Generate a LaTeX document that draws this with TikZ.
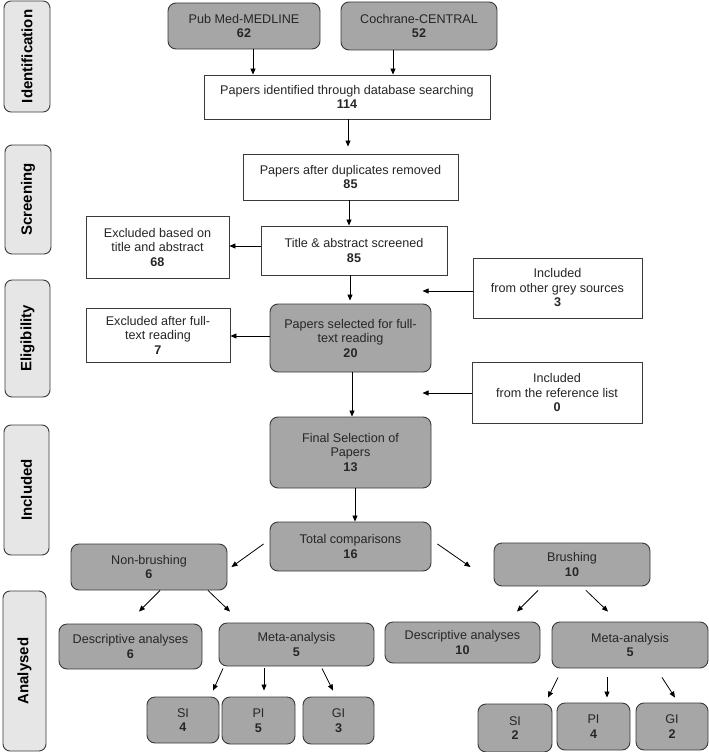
\documentclass[tikz,border=0pt]{standalone}
\usepackage{fontspec}
\setmainfont{Liberation Sans}
\usetikzlibrary{arrows.meta,calc}
\definecolor{boxgrey}{HTML}{A6A6A6}
\definecolor{sidegrey}{HTML}{E6E6E6}
\definecolor{edgec}{HTML}{3A3A3A}
\begin{document}
\begin{tikzpicture}[x=1pt,y=-1pt,
  base/.style={draw=edgec, line width=0.9pt, align=center, inner sep=2pt,
    font=\fontsize{12.6}{14.5}\selectfont, text=black!85},
  whitebox/.style={base, fill=white},
  greybox/.style={base, fill=boxgrey, rounded corners=8pt},
  sidebox/.style={draw=edgec, line width=0.9pt, fill=sidegrey, rounded corners=7pt,
    rotate=90, font=\fontsize{15}{18}\selectfont\bfseries},
  arr/.style={-{Triangle[length=6pt,width=5pt]}, line width=0.8pt},
]
\useasboundingbox (0,0) rectangle (709,752);

% side labels
\node[sidebox, minimum width=111pt, minimum height=46pt] (idl) at (27,56.5) {Identification};
\node[sidebox, minimum width=109pt, minimum height=46pt] (scr) at (28,199.5) {Screening};
\node[sidebox, minimum width=117pt, minimum height=45pt] (eli) at (27.5,338.5) {Eligibility};
\node[sidebox, minimum width=130pt, minimum height=45pt] (inc) at (26.5,490) {Included};
\node[sidebox, minimum width=160pt, minimum height=43pt] (ana) at (24.5,671) {Analysed};

% main flow
\node[greybox, minimum width=152pt, minimum height=46pt] (pub) at (244,26) {Pub Med-MEDLINE\\\textbf{62}};
\node[greybox, minimum width=156pt, minimum height=48pt] (coch) at (419,26) {Cochrane-CENTRAL\\\textbf{52}};
\node[whitebox, minimum width=286pt, minimum height=44pt] (ident) at (347,97) {Papers identified through database searching\\\textbf{114}};
\node[whitebox, minimum width=215pt, minimum height=46pt] (dup) at (350.5,177) {Papers after duplicates removed\\\textbf{85}};
\node[whitebox, minimum width=186pt, minimum height=49pt] (tas) at (354,250.5) {Title \& abstract screened\\\textbf{85}};
\node[whitebox, minimum width=143pt, minimum height=62pt] (excl1) at (157.5,247) {Excluded based on\\title and abstract\\\textbf{68}};
\node[greybox, minimum width=161pt, minimum height=68pt] (sel) at (350.5,338) {Papers selected for full-\\text reading\\\textbf{20}};
\node[whitebox, minimum width=144pt, minimum height=54pt] (excl2) at (158,335) {Excluded after full-\\text reading\\\textbf{7}};
\node[whitebox, minimum width=169pt, minimum height=60pt] (grey) at (557.5,288) {Included\\from other grey sources\\\textbf{3}};
\node[whitebox, minimum width=170pt, minimum height=61pt] (ref) at (557,392.5) {Included\\from the reference list\\\textbf{0}};
\node[greybox, minimum width=161pt, minimum height=71pt] (final) at (350.5,452.5) {Final Selection of\\Papers\\\textbf{13}};
\node[greybox, minimum width=161pt, minimum height=49pt] (total) at (350.5,546.5) {Total comparisons\\\textbf{16}};
\node[greybox, minimum width=156pt, minimum height=46pt] (nonb) at (149,567) {Non-brushing\\\textbf{6}};
\node[greybox, minimum width=156pt, minimum height=43pt] (brush) at (572,564.5) {Brushing\\\textbf{10}};
\node[greybox, minimum width=143pt, minimum height=45pt] (desc1) at (130.5,646.5) {Descriptive analyses\\\textbf{6}};
\node[greybox, minimum width=155pt, minimum height=43pt] (meta1) at (296.5,644.5) {Meta-analysis\\\textbf{5}};
\node[greybox, minimum width=72pt, minimum height=46pt] (si1) at (183,720) {SI\\\textbf{4}};
\node[greybox, minimum width=73pt, minimum height=47pt] (pi1) at (258.5,720.5) {PI\\\textbf{5}};
\node[greybox, minimum width=71pt, minimum height=47pt] (gi1) at (338.5,720.5) {GI\\\textbf{3}};
\node[greybox, minimum width=155pt, minimum height=41pt] (desc2) at (462.5,642.5) {Descriptive analyses\\\textbf{10}};
\node[greybox, minimum width=156pt, minimum height=46pt] (meta2) at (630,645) {Meta-analysis\\\textbf{5}};
\node[greybox, minimum width=74pt, minimum height=48pt] (si2) at (515,728) {SI\\\textbf{2}};
\node[greybox, minimum width=73pt, minimum height=47pt] (pi2) at (593.5,726.5) {PI\\\textbf{4}};
\node[greybox, minimum width=72pt, minimum height=47pt] (gi2) at (672,726.5) {GI\\\textbf{2}};

% arrows
\draw[arr] (pub.south -| 253,0) -- (ident.north -| 253,0);
\draw[arr] (coch.south -| 393,0) -- (ident.north -| 393,0);
\draw[arr, shorten >=7pt] (ident.south -| 348,0) -- (dup.north -| 348,0);
\draw[arr] (dup.south -| 349,0) -- (tas.north -| 349,0);
\draw[arr] (tas.west |- 0,246) -- (excl1.east |- 0,246);
\draw[arr, shorten >=3pt] (tas.south -| 350,0) -- (sel.north -| 350,0);
\draw[arr] (sel.west |- 0,336) -- (excl2.east |- 0,336);
\draw[arr] (grey.west |- 0,291) -- ++(-50,0);
\draw[arr] (sel.south -| 352,0) -- (final.north -| 352,0);
\draw[arr] (ref.west |- 0,393) -- ++(-49,0);
\draw[arr] (final.south -| 355,0) -- (total.north -| 355,0);

\draw[arr] ($(total.west)+(-6,-2.5)$) -- ($(nonb.east)+(4,0)$);
\draw[arr] ($(total.east)+(6,-2.5)$) -- ($(brush.west)+(-23,2.5)$);
\draw[arr] ($(nonb.south)+(11,0)$) -- ($(desc1.north)+(8.5,-12)$);
\draw[arr] ($(nonb.south)+(59,0)$) -- ($(meta1.north)+(-66.5,-11)$);
\draw[arr] ($(meta1.south)+(-73.5,2)$) -- ($(si1.north)+(30,-6)$);
\draw[arr] ($(meta1.south)+(-32.5,2)$) -- ($(pi1.north)+(5.5,-6)$);
\draw[arr] ($(meta1.south)+(25.5,2)$) -- ($(gi1.north)+(-5.5,-6)$);
\draw[arr] ($(brush.south)+(-34,4)$) -- ($(desc2.north)+(54.5,-10)$);
\draw[arr] ($(brush.south)+(14,4)$) -- ($(meta2.north)+(-22,-10)$);
\draw[arr] ($(meta2.south)+(-72,9)$) -- ($(si2.north)+(33,-6)$);
\draw[arr] ($(meta2.south)+(-23,9)$) -- ($(pi2.north)+(13.5,-5)$);
\draw[arr] ($(meta2.south)+(32,9)$) -- ($(gi2.north)+(3,-5)$);
\end{tikzpicture}
\end{document}
